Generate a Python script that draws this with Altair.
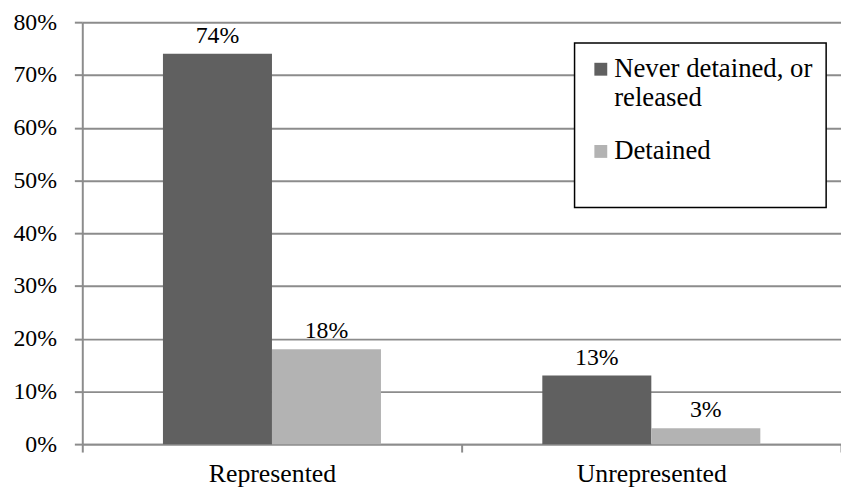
import altair as alt
import pandas as pd

categories = ["Represented", "Represented", "Unrepresented", "Unrepresented"]
statuses = ["Never detained, or released", "Detained", "Never detained, or released", "Detained"]
values = [0.74, 0.18, 0.13, 0.03]
category_order = ["Represented", "Unrepresented"]
status_order = ["Never detained, or released", "Detained"]
status_colors = ["#606060", "#b3b3b3"]
y_ticks = [0, 0.1, 0.2, 0.3, 0.4, 0.5, 0.6, 0.7, 0.8]

df = pd.DataFrame({"category": categories, "status": statuses, "value": values})

FONT = "Liberation Serif"
GRID = "#8c8c8c"

x_enc = alt.X(
    "category:N",
    sort=category_order,
    scale=alt.Scale(paddingInner=0, paddingOuter=0),
    axis=alt.Axis(
        title=None,
        labelAngle=0,
        tickBand="extent",
        ticks=True,
        tickSize=8,
        labelPadding=30,
        labelBaseline="alphabetic",
        labelFontSize=26,
        grid=False,
    ),
)
xo_enc = alt.XOffset(
    "status:N",
    sort=status_order,
    scale=alt.Scale(paddingInner=0, paddingOuter=0.74),
)
y_enc = alt.Y(
    "value:Q",
    scale=alt.Scale(domain=[0, 0.8], nice=False),
    axis=alt.Axis(
        title=None,
        values=y_ticks,
        format=".0%",
        tickSize=8,
        labelPadding=18,
        labelFontSize=24,
        grid=True,
    ),
)

bars = alt.Chart(df).mark_bar().encode(
    x=x_enc,
    xOffset=xo_enc,
    y=y_enc,
    color=alt.Color(
        "status:N",
        sort=status_order,
        scale=alt.Scale(domain=status_order, range=status_colors),
        legend=alt.Legend(
            title=" ",
            titleOrient="bottom",
            titleFontSize=20,
            titlePadding=10,
            orient="none",
            legendX=497,
            legendY=21,
            symbolType="square",
            symbolSize=169,
            symbolStrokeWidth=0,
            labelFontSize=27,
            labelFont=FONT,
            labelLimit=0,
            labelOffset=0,
            rowPadding=26,
            padding=13,
            strokeColor="black",
            fillColor="white",
            labelExpr="datum.label == 'Never detained, or released' ? ['Never detained, or', 'released'] : datum.label",
        ),
    ),
)

labels = alt.Chart(df).mark_text(
    baseline="alphabetic", dy=-11, fontSize=24, font=FONT, color="black"
).encode(
    x=x_enc,
    xOffset=xo_enc,
    y=y_enc,
    text=alt.Text("value:Q", format=".0%"),
)

chart = (
    alt.layer(bars, labels)
    .properties(
        width=766,
        height=426,
        autosize=alt.AutoSizeParams(type="none"),
        padding={"left": 75, "top": 12, "right": 0, "bottom": 44},
    )
    .configure(font=FONT)
    .configure_view(stroke=None)
    .configure_axis(
        labelFont=FONT,
        labelColor="black",
        domainColor=GRID,
        domainWidth=2,
        tickColor=GRID,
        tickWidth=2,
        gridColor=GRID,
        gridWidth=2,
    )
    .configure_legend(strokeWidth=1.5, cornerRadius=0)
)

chart.save("out.html", embed_options={"renderer": "svg", "actions": False})
